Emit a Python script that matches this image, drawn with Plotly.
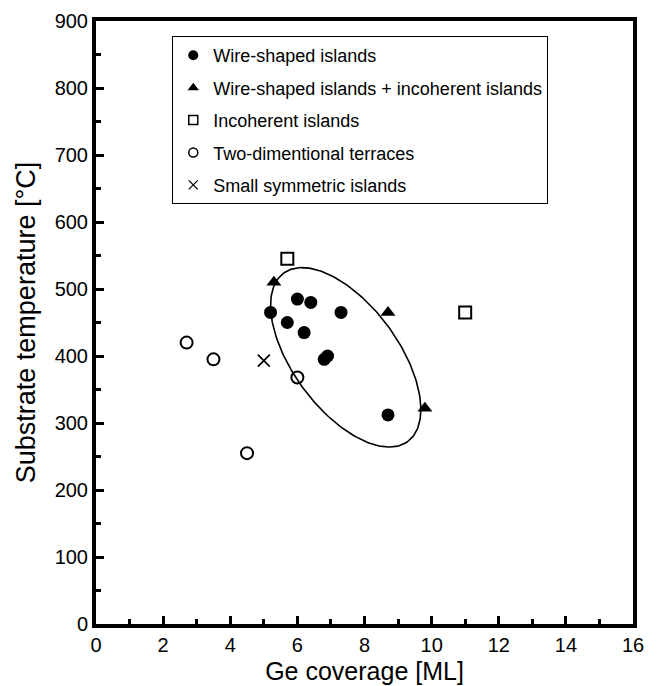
import numpy as np
import plotly.graph_objects as go

# Ge coverage [ML] and substrate temperature [°C] for each growth outcome
wire_x = [5.2, 6.0, 6.4, 7.3, 5.7, 6.2, 6.8, 6.9, 8.7]
wire_y = [465, 485, 480, 465, 450, 435, 395, 400, 312]

wire_incoh_x = [5.3, 8.7, 9.8]
wire_incoh_y = [510, 465, 322]

incoh_x = [5.7, 11.0]
incoh_y = [545, 465]

terrace_x = [2.7, 3.5, 6.0, 4.5]
terrace_y = [420, 395, 368, 255]

small_x = [5.0]
small_y = [393]

# Ellipse enclosing the wire-shaped region: centre and two semi-axis vectors
ell_center = (7.44, 398.0)
ell_axis_a = (1.85, -125.6)
ell_axis_b = (1.26, 46.5)

FONT = "Liberation Sans, Arial, Helvetica, sans-serif"

fig = go.Figure()

t = np.linspace(0, 2 * np.pi, 240)
ell_x = ell_center[0] + ell_axis_a[0] * np.cos(t) + ell_axis_b[0] * np.sin(t)
ell_y = ell_center[1] + ell_axis_a[1] * np.cos(t) + ell_axis_b[1] * np.sin(t)
fig.add_trace(go.Scatter(x=ell_x, y=ell_y, mode="lines",
                         line=dict(color="black", width=1.6),
                         showlegend=False, hoverinfo="skip"))

series = [
    ("Wire-shaped islands", wire_x, wire_y,
     dict(symbol="circle", size=13, color="black")),
    ("Wire-shaped islands + incoherent islands", wire_incoh_x, wire_incoh_y,
     dict(symbol="triangle-up", size=13, color="black")),
    ("Incoherent islands", incoh_x, incoh_y,
     dict(symbol="square-open", size=12, color="black", line=dict(width=2, color="black"))),
    ("Two-dimentional terraces", terrace_x, terrace_y,
     dict(symbol="circle-open", size=12, color="black", line=dict(width=2, color="black"))),
    ("Small symmetric islands", small_x, small_y,
     dict(symbol="x-thin-open", size=12, color="black", line=dict(width=1.6, color="black"))),
]

legend_markers = [
    dict(symbol="circle", size=10, color="black"),
    dict(symbol="triangle-up", size=10, color="black"),
    dict(symbol="square-open", size=9, color="black", line=dict(width=1.5, color="black")),
    dict(symbol="circle-open", size=9, color="black", line=dict(width=1.5, color="black")),
    dict(symbol="x-thin-open", size=9, color="black", line=dict(width=1.3, color="black")),
]

for i, (name, xs, ys, mk) in enumerate(series):
    fig.add_trace(go.Scatter(x=xs, y=ys, mode="markers", marker=mk,
                             name=name, showlegend=False, legendgroup=f"g{i}"))
    fig.add_trace(go.Scatter(x=[None], y=[None], mode="markers",
                             marker=legend_markers[i], name=name,
                             showlegend=True, legendgroup=f"g{i}"))

axis_common = dict(
    showline=True, linecolor="black", linewidth=4, mirror=True,
    ticks="inside", tickcolor="black", tickwidth=2.5, ticklen=8,
    showgrid=False, zeroline=False,
    tickfont=dict(family=FONT, size=20, color="black"),
)

fig.update_xaxes(range=[0, 16], dtick=2, tick0=0,
                 minor=dict(ticks="inside", dtick=1, ticklen=5, tickwidth=2.5,
                            tickcolor="black", showgrid=False),
                 title=dict(text="Ge coverage [ML]",
                            font=dict(family=FONT, size=25, color="black"),
                            standoff=8),
                 **axis_common)
fig.update_yaxes(range=[0, 900], dtick=100, tick0=0,
                 minor=dict(ticks="inside", dtick=50, ticklen=5, tickwidth=2.5,
                            tickcolor="black", showgrid=False),
                 title=dict(text="Substrate temperature [°C]",
                            font=dict(family=FONT, size=27, color="black"),
                            standoff=12),
                 **axis_common)

fig.update_layout(
    width=657, height=686,
    margin=dict(l=96, r=24, t=21, b=62, autoexpand=False),
    paper_bgcolor="white", plot_bgcolor="white",
    font=dict(family=FONT, color="black"),
    legend=dict(x=0.142, y=0.975, xanchor="left", yanchor="top",
                bgcolor="white", bordercolor="black", borderwidth=1,
                font=dict(family=FONT, size=18, color="black"),
                traceorder="grouped", tracegroupgap=6,
                itemsizing="trace"),
)

fig.write_html("out.html")
